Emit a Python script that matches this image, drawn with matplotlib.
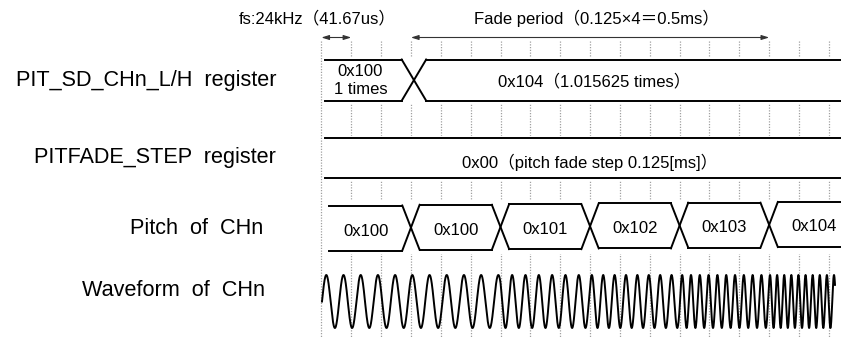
import numpy as np
import matplotlib
matplotlib.use("Agg")
import matplotlib.pyplot as plt

# ---------------- data ----------------
row_labels = ["PIT_SD_CHn_L/H  register", "PITFADE_STEP  register",
              "Pitch  of  CHn", "Waveform  of  CHn"]
reg_values = ["0x100\n1 times", "0x104\uff081.015625 times\uff09"]
reg_change_sample = 3
fade_step_value = "0x00\uff08pitch fade step 0.125[ms]\uff09"
pitch_values = ["0x100", "0x100", "0x101", "0x102", "0x103", "0x104"]
pitch_step_samples = 3
wave_cycles_per_sample = [1.735, 1.735, 2.24, 2.62, 3.39, 4.2]
fs_label = "fs:24kHz\uff0841.67us\uff09"
fade_label = "Fade period\uff080.125\u00d74\uff1d0.5ms\uff09"
fs_period_samples = 1
fade_start_sample = 3
fade_steps = 4
n_grid = 18

# ---------------- layout (pixels) ----------------
W, H = 841, 338
PX0 = 321.4          # pixel x of sample 0
PPS = 29.85          # pixels per sample
FONT = ["Liberation Sans", "Noto Sans CJK JP"]
TXT = 12

def s_of(px):
    return (px - PX0) / PPS

fig = plt.figure(figsize=(W / 100, H / 100), dpi=100)
ax = fig.add_axes([0, 0, 1, 1])
ax.set_xlim(s_of(0), s_of(W))
ax.set_ylim(H, 0)
ax.axis("off")
x_right = s_of(W) + 1

# dotted grid
for k in range(n_grid):
    ax.plot([k, k], [41, 337], color="#a0a0a0", lw=0.9,
            linestyle=(0, (1, 1.2)), zorder=1)

LW = 1.4

def bus(ax, start, changes, top, bot, half, end, offsets=None):
    """draw bus-style row with X transitions"""
    pts = [start] + list(changes) + [end]
    n = len(pts) - 1
    if offsets is None:
        offsets = [0] * n
    ax.fill_between([start, end], top + min(offsets) - 2, bot + 2,
                    color="white", zorder=2)
    for i in range(n):
        a, b = pts[i], pts[i + 1]
        oa = offsets[i]
        xa = a if i == 0 else a + half
        xb = b if i == n - 1 else b - half
        ax.plot([xa, xb], [top + oa, top + oa], color="black", lw=LW, zorder=3)
        ax.plot([xa, xb], [bot + oa, bot + oa], color="black", lw=LW, zorder=3)
        if i < n - 1:
            ob = offsets[i + 1]
            ax.plot([b - half, b + half], [top + oa, bot + ob], color="black",
                    lw=LW, zorder=3)
            ax.plot([b - half, b + half], [bot + oa, top + ob], color="black",
                    lw=LW, zorder=3)

# --- PIT_SD_CHn_L/H register row
r1_top, r1_bot = 59.5, 100.7
bus(ax, s_of(325), [reg_change_sample + 0.1], r1_top, r1_bot, 0.41, x_right)
first_lines = reg_values[0].split("\n")
ax.text(s_of(360), 72, first_lines[0], ha="center", va="center",
        fontsize=TXT, family=FONT, zorder=4)
ax.text(s_of(361), 89.5, first_lines[1], ha="center", va="center",
        fontsize=TXT, family=FONT, zorder=4)
ax.text(s_of(594), 81.5, reg_values[1], ha="center", va="center",
        fontsize=TXT, family=FONT, zorder=4)

# --- PITFADE_STEP row
r2_top, r2_bot = 138.3, 177.7
bus(ax, s_of(325), [], r2_top, r2_bot, 0.3, x_right)
ax.text(s_of(590), 162, fade_step_value, ha="center", va="center",
        fontsize=TXT, family=FONT, zorder=4)

# --- Pitch row
r3_top, r3_bot = 205.5, 250.5
n_p = len(pitch_values)
changes = [pitch_step_samples * (i + 1) for i in range(n_p - 1)]
offs = [-0.7 * i for i in range(n_p)]
bus(ax, s_of(328.5), changes, r3_top, r3_bot, 0.29, x_right, offsets=offs)
for i, v in enumerate(pitch_values):
    xc = pitch_step_samples * (i + 0.5)
    ax.text(xc, 231.5 + offs[i] * 1.3, v, ha="center", va="center",
            fontsize=TXT, family=FONT, zorder=4)

# --- Waveform
seg_edges = [pitch_step_samples * i for i in range(n_p)] + [np.inf]
wave_start, wave_end = 0.02, s_of(835)
xs = np.linspace(wave_start, wave_end, 6000)
freq = np.zeros_like(xs)
for i in range(n_p):
    m = (xs >= seg_edges[i]) & (xs < seg_edges[i + 1])
    freq[m] = wave_cycles_per_sample[i]
phase = np.concatenate([[0], np.cumsum(0.5 * (freq[1:] + freq[:-1]) * np.diff(xs))])
w_center, w_amp = 301.5, 26.5
ax.plot(xs, w_center - w_amp * np.sin(2 * np.pi * phase), color="black",
        lw=1.4, zorder=3)

# --- row labels
label_pos = [(276, 80.5), (276, 157.5), (263.5, 229), (265, 291)]
for (px, py), lab in zip(label_pos, row_labels):
    ax.text(s_of(px), py, lab, ha="right", va="center", fontsize=15.6,
            family=FONT)

# --- top annotations
arrow_y = 37.5
aprops = dict(arrowstyle="<|-|>,head_length=0.45,head_width=0.14",
              color="#333333", lw=0.8, shrinkA=0, shrinkB=0)
ax.annotate("", xy=(0, arrow_y), xytext=(fs_period_samples, arrow_y),
            arrowprops=aprops)
fade_len = fade_steps * pitch_step_samples
ax.annotate("", xy=(fade_start_sample, arrow_y),
            xytext=(fade_start_sample + fade_len, arrow_y), arrowprops=aprops)
ax.text(s_of(317), 18, fs_label, ha="center", va="center", fontsize=TXT,
        family=FONT)
ax.text(s_of(597), 18, fade_label, ha="center", va="center", fontsize=TXT,
        family=FONT)

fig.savefig("out.png", dpi=100)
